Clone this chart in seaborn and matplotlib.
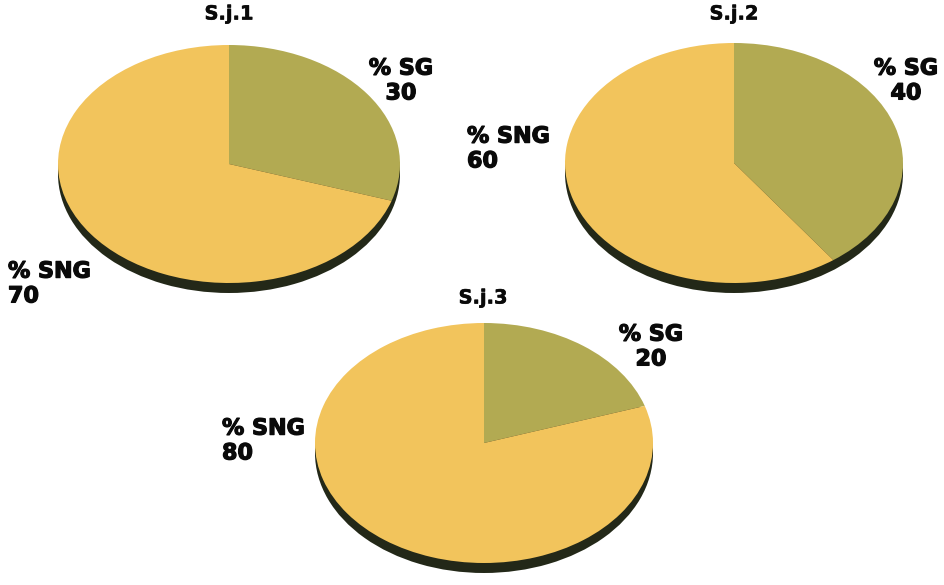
import matplotlib
matplotlib.use('Agg')
import matplotlib.pyplot as plt
import matplotlib.patheffects as pe
import seaborn as sns

# données
titres = ["S.j.1", "S.j.2", "S.j.3"]
pct_sg = [30, 40, 20]
pct_sng = [70, 60, 80]
label_sg = "% SG"
label_sng = "% SNG"

sns.set_theme(style="white")
plt.rcParams['font.family'] = ['DejaVu Sans']

col_sg = "#b2aa52"
col_sng = "#f2c45c"
col_ombre = "#232818"
col_texte = "#0a0a0a"

W, H = 944, 585
fig = plt.figure(figsize=(W / 100, H / 100), dpi=100)
fig.patch.set_facecolor('white')

# position des camemberts en pixels : centre x, centre y, demi-axes a, b
geo = [(229, 164, 171, 119), (734, 163, 169, 120), (484, 443, 169, 120)]
prof = 10  # épaisseur de l'ombre en px

# emplacement des étiquettes (px) : titre, SG, SNG
pos_titre = [(229, 14), (734, 14), (483, 298)]
pos_sg = [(401, 81), (906, 81), (651, 347)]
pos_sng = [(8, 284), (467, 149), (222, 441)]

gras = [pe.withStroke(linewidth=0.9, foreground=col_texte)]
gras_titre = [pe.withStroke(linewidth=0.4, foreground=col_texte)]

for i in range(3):
    cx, cy, a, b = geo[i]
    d = prof / b
    ax = fig.add_axes([(cx - a) / W, (H - (cy + b + prof)) / H,
                       2 * a / W, (2 * b + prof) / H])
    # ombre / épaisseur
    ax.pie([pct_sg[i] + pct_sng[i]], colors=[col_ombre], center=(0, -d),
           wedgeprops=dict(linewidth=0))
    ax.pie([pct_sg[i], pct_sng[i]], colors=[col_sg, col_sng], startangle=90,
           counterclock=False, wedgeprops=dict(linewidth=0))
    ax.set_aspect('auto')
    ax.set_xlim(-1, 1)
    ax.set_ylim(-1 - d, 1)
    ax.axis('off')

    fs = 16
    tx, ty = pos_titre[i]
    fig.text(tx / W, 1 - ty / H, titres[i], ha='center', va='center',
             fontsize=14, fontweight='bold', color=col_texte,
             path_effects=gras_titre)
    sx, sy = pos_sg[i]
    fig.text(sx / W, 1 - sy / H, f"{label_sg}\n{pct_sg[i]}", ha='center',
             va='center', multialignment='center', fontsize=fs,
             fontweight='bold', color=col_texte, linespacing=1.3,
             path_effects=gras)
    nx, ny = pos_sng[i]
    fig.text(nx / W, 1 - ny / H, f"{label_sng}\n{pct_sng[i]}", ha='left',
             va='center', multialignment='left', fontsize=fs,
             fontweight='bold', color=col_texte, linespacing=1.3,
             path_effects=gras)

fig.savefig("out.png", dpi=100)
